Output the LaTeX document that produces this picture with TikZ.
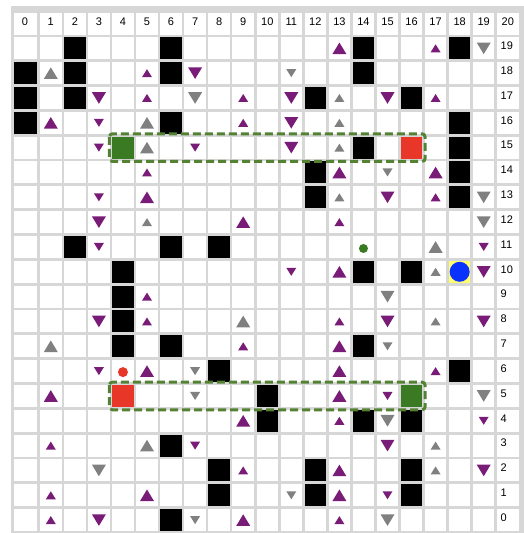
\documentclass[tikz,border=0pt]{standalone}
\usepackage{fontspec}
\setmainfont{Liberation Sans}
\definecolor{gridgray}{RGB}{215,215,215}
\definecolor{purp}{RGB}{120,28,120}
\definecolor{tgray}{RGB}{128,128,128}
\definecolor{gfill}{RGB}{58,122,34}
\definecolor{gdash}{RGB}{84,130,53}
\definecolor{rfill}{RGB}{232,55,40}
\definecolor{bfill}{RGB}{10,50,255}
\definecolor{yfill}{RGB}{255,255,110}
\newcommand\CX[1]{(26.75+24.05*(#1))}
\newcommand\CY[1]{(23.5+24.83*(20-(#1)))}
\begin{document}
\begin{tikzpicture}[x=1pt,y=-1pt,
  lbl/.style={font=\fontsize{11}{12}\selectfont,inner sep=0pt,text=black},
  hilite/.style={draw=gdash,line width=3pt,dash pattern=on 8pt off 4pt,rounded corners=3pt}]
\useasboundingbox (0,0) rectangle (524,533);
\fill[gridgray] (11,6) rectangle (524,533);
% white cells
\foreach \c in {1,...,20} \foreach \r in {0,...,20}
  \fill[white] ({16+24.05*\c},{12.5+24.83*\r}) rectangle ++(21.5,22);
\foreach \r in {0,...,20}
  \fill[white] (13.5,{12.5+24.83*\r}) rectangle ++(23.5,22);
% black cells
\foreach \c/\R in {2/19,6/19,14/19,18/19, 2/18,6/18,14/18, 2/17,12/17,16/17,
  6/16,18/16, 14/15,18/15, 12/14,18/14, 12/13,18/13, 2/11,6/11,8/11,
  4/10,14/10,16/10, 4/9, 4/8, 4/7,6/7,14/7, 8/6,18/6, 10/5, 10/4,14/4,16/4,
  6/3, 8/2,12/2,16/2, 8/1,12/1,16/1, 6/0}
  \fill[black] ({16+24.05*\c},{12.5+24.83*(20-\R)}) rectangle ++(21.5,22);
\foreach \R in {18,17,16}
  \fill[black] (13.5,{12.5+24.83*(20-\R)}) rectangle ++(23.5,22);
% special cells
\fill[gfill] ({16+24.05*4},{12.5+24.83*5}) rectangle ++(21.5,22);
\fill[rfill] ({16+24.05*16},{12.5+24.83*5}) rectangle ++(21.5,22);
\fill[rfill] ({16+24.05*4},{12.5+24.83*15}) rectangle ++(21.5,22);
\fill[gfill] ({16+24.05*16},{12.5+24.83*15}) rectangle ++(21.5,22);
\fill[yfill] ({16+24.05*18},{12.5+24.83*10}) rectangle ++(21.5,22);
\fill[bfill] ({\CX{18}},{\CY{10}}) circle[radius=10];
\fill[gfill] ({\CX{14}},{\CY{11}+1.5}) circle[radius=4.5];
\fill[rfill] ({\CX{4}},{\CY{6}+1}) circle[radius=5];
% purple up big
\foreach \c/\R in {13/19,1/16,13/14,17/14,5/13,9/12,13/10,13/7,5/6,13/6,1/5,13/5,9/4,13/2,5/1,13/1,9/0}
  \fill[purp,shift={({\CX{\c}},{\CY{\R}})}] (-7,5.8) -- (7,5.8) -- (0,-5.8) -- cycle;
% purple up small
\foreach \c/\R in {17/19,5/18,5/17,9/17,17/17,9/16,5/14,17/13,13/12,5/9,5/8,13/8,9/7,17/6,13/4,1/3,9/2,1/1,1/0,13/0}
  \fill[purp,shift={({\CX{\c}},{\CY{\R}})}] (-5,4) -- (5,4) -- (0,-4) -- cycle;
% purple down big
\foreach \c/\R in {7/18,3/17,11/17,15/17,11/16,11/15,15/13,3/12,19/10,3/8,15/8,19/8,15/3,19/2,3/0}
  \fill[purp,shift={({\CX{\c}},{\CY{\R}})}] (-7,-5.8) -- (7,-5.8) -- (0,5.8) -- cycle;
% purple down small
\foreach \c/\R in {3/16,3/15,7/15,3/13,3/11,19/11,11/10,3/6,15/5,19/4,7/3,15/1}
  \fill[purp,shift={({\CX{\c}},{\CY{\R}})}] (-5,-4) -- (5,-4) -- (0,4) -- cycle;
% gray up big
\foreach \c/\R in {1/18,5/16,5/15,17/11,9/8,1/7,5/3}
  \fill[tgray,shift={({\CX{\c}},{\CY{\R}})}] (-7,5.8) -- (7,5.8) -- (0,-5.8) -- cycle;
% gray up small
\foreach \c/\R in {13/17,13/16,13/15,13/13,5/12,17/10,17/8,17/3,17/2}
  \fill[tgray,shift={({\CX{\c}},{\CY{\R}})}] (-5,4) -- (5,4) -- (0,-4) -- cycle;
% gray down big
\foreach \c/\R in {19/19,7/17,19/13,19/12,15/9,19/5,15/4,3/2,15/0}
  \fill[tgray,shift={({\CX{\c}},{\CY{\R}})}] (-7,-5.8) -- (7,-5.8) -- (0,5.8) -- cycle;
% gray down small
\foreach \c/\R in {11/18,15/14,15/7,7/6,7/5,11/1,7/0}
  \fill[tgray,shift={({\CX{\c}},{\CY{\R}})}] (-5,-4) -- (5,-4) -- (0,4) -- cycle;
% highlight frames
\draw[hilite] (109.4,133.85) rectangle (425.1,161.45);
\draw[hilite] (109.4,382.15) rectangle (425.1,409.75);
% labels
\node[lbl] (top0) at (25,22) {0};
\foreach \c in {1,...,20} \node[lbl] (top\c) at ({\CX{\c}},22) {\c};
\foreach \R in {0,...,19} \node[lbl,anchor=west] (row\R) at (500.5,{\CY{\R}-2.5}) {\R};
\end{tikzpicture}
\end{document}
